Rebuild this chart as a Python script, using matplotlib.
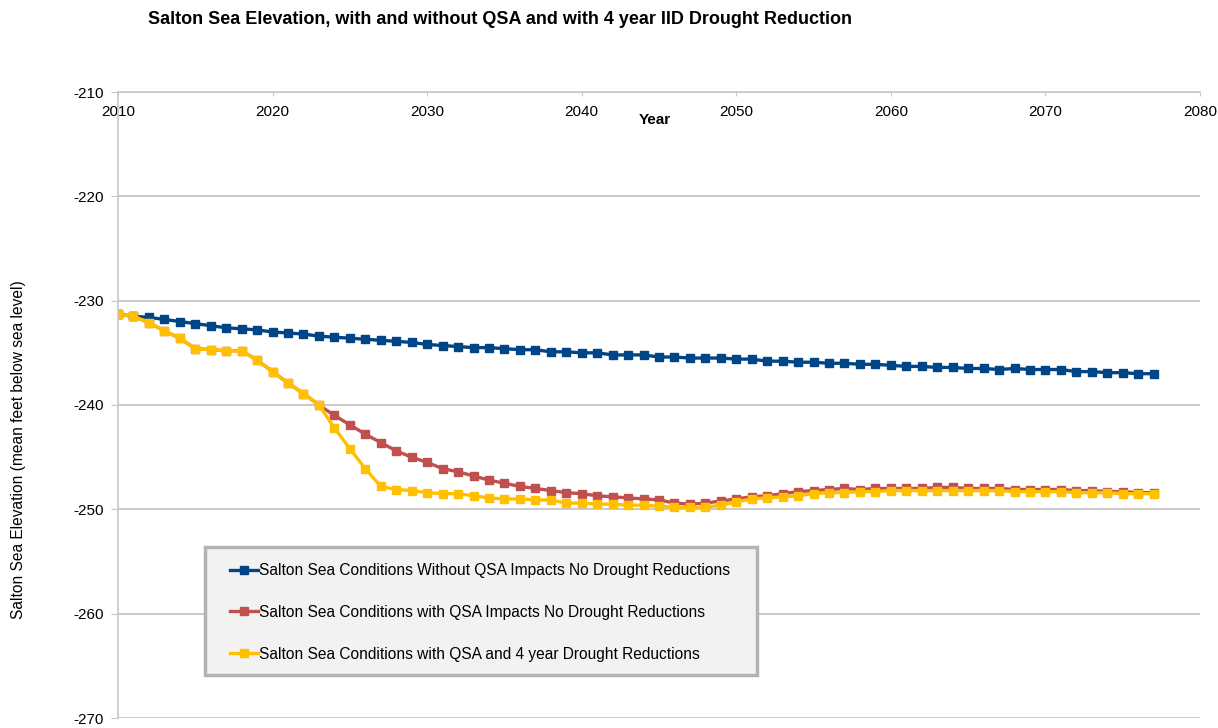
import matplotlib
matplotlib.use("Agg")
import matplotlib.pyplot as plt
from matplotlib.patches import Rectangle

plt.rcParams["font.family"] = ["Liberation Sans", "DejaVu Sans"]
plt.rcParams["axes.unicode_minus"] = False

years = list(range(2010, 2078))

no_qsa = [
    -231.3, -231.5, -231.6, -231.8, -232.0, -232.2, -232.4, -232.6, -232.7, -232.8,
    -233.0, -233.1, -233.2, -233.4, -233.5, -233.6, -233.7, -233.8, -233.9, -234.0,
    -234.2, -234.3, -234.4, -234.5, -234.5, -234.6, -234.7, -234.7, -234.9, -234.9,
    -235.0, -235.0, -235.2, -235.2, -235.2, -235.4, -235.4, -235.5, -235.5, -235.5,
    -235.6, -235.6, -235.8, -235.8, -235.9, -235.9, -236.0, -236.0, -236.1, -236.1,
    -236.2, -236.3, -236.3, -236.4, -236.4, -236.5, -236.5, -236.6, -236.5, -236.6,
    -236.6, -236.6, -236.8, -236.8, -236.9, -236.9, -237.0, -237.0,
]

with_qsa = [
    -231.3, -231.5, -232.1, -232.9, -233.6, -234.6, -234.7, -234.8, -234.8, -235.7,
    -236.8, -237.9, -238.9, -240.0, -241.0, -241.9, -242.8, -243.6, -244.4, -245.0,
    -245.5, -246.1, -246.4, -246.8, -247.2, -247.5, -247.8, -248.0, -248.2, -248.4,
    -248.5, -248.7, -248.8, -248.9, -249.0, -249.1, -249.4, -249.5, -249.4, -249.2,
    -249.0, -248.8, -248.7, -248.5, -248.3, -248.2, -248.1, -248.0, -248.1, -248.0,
    -248.0, -248.0, -248.0, -247.9, -247.9, -248.0, -248.0, -248.0, -248.1, -248.1,
    -248.1, -248.1, -248.2, -248.2, -248.3, -248.3, -248.4, -248.4,
]

with_qsa_drought = [
    -231.3, -231.5, -232.1, -232.9, -233.6, -234.6, -234.7, -234.8, -234.8, -235.7,
    -236.8, -237.9, -238.9, -240.0, -242.2, -244.2, -246.1, -247.8, -248.1, -248.2,
    -248.4, -248.5, -248.5, -248.7, -248.9, -249.0, -249.0, -249.1, -249.1, -249.4,
    -249.4, -249.5, -249.5, -249.6, -249.6, -249.7, -249.8, -249.8, -249.8, -249.6,
    -249.3, -249.0, -248.9, -248.8, -248.7, -248.5, -248.4, -248.4, -248.3, -248.3,
    -248.2, -248.2, -248.2, -248.2, -248.2, -248.2, -248.2, -248.2, -248.3, -248.3,
    -248.3, -248.3, -248.4, -248.4, -248.4, -248.5, -248.5, -248.5,
]

labels = [
    "Salton Sea Conditions Without QSA Impacts No Drought Reductions",
    "Salton Sea Conditions with QSA Impacts No Drought Reductions",
    "Salton Sea Conditions with QSA and 4 year Drought Reductions",
]
colors = ["#004586", "#c0504d", "#ffc000"]

W, H = 1218, 728
fig = plt.figure(figsize=(W / 100, H / 100), dpi=100)
ax = fig.add_axes([118 / W, 10 / H, 1082 / W, 626 / H])

def ax_xy(px, py):
    # pixel position (from top-left of the figure) -> axes fraction
    return (px - 118) / 1082, (718 - py) / 626

for vals, lab, col in zip([no_qsa, with_qsa, with_qsa_drought], labels, colors):
    ax.plot(years, vals, color=col, lw=2.4, marker="s", ms=6.3, mec=col, label=lab)

ax.set_xlim(2010, 2080)
ax.set_ylim(-270, -210)
ax.set_xticks(range(2010, 2081, 10))
ax.set_yticks(range(-270, -209, 10))

# x axis sits on the -210 line, labels hang below it
ax.spines["bottom"].set_position(("data", -210))
ax.spines["top"].set_visible(False)
ax.spines["right"].set_visible(False)
for s in ["bottom", "left"]:
    ax.spines[s].set_color("#c8c8c8")
    ax.spines[s].set_linewidth(1.2)

ax.yaxis.grid(True, color="#c0c0c0", lw=1.2)
ax.set_axisbelow(True)
ax.tick_params(axis="x", direction="out", length=3, color="#c8c8c8", labelsize=11, pad=6.5)
ax.tick_params(axis="y", direction="out", length=5, color="#c8c8c8", labelsize=11, pad=5)

ax.set_xlabel("Year", fontsize=11, fontweight="bold")
ax.xaxis.set_label_coords(*ax_xy(655, 120))
ax.xaxis.label.set_va("center")

ax.set_ylabel("Salton Sea Elevation (mean feet below sea level)", fontsize=11.2)
ax.yaxis.set_label_coords(*ax_xy(18, 450))
ax.yaxis.label.set_va("center")

fig.text(148 / W, 1 - 20 / H, "Salton Sea Elevation, with and without QSA and with 4 year IID Drought Reduction",
         fontsize=13, fontweight="bold", ha="left", va="center")

# legend box
x0, y0 = ax_xy(205, 675)
x1, y1 = ax_xy(757, 547)
ax.add_patch(Rectangle((x0, y0), x1 - x0, y1 - y0, transform=ax.transAxes,
                       facecolor="#f2f2f2", edgecolor="#b3b3b3", lw=2.5, zorder=4, clip_on=False))

ax.legend(loc="upper left", bbox_to_anchor=ax_xy(230, 563),
          borderaxespad=0, borderpad=0, fontsize=11.2, frameon=False,
          handlelength=1.8, handletextpad=0.05, labelspacing=1.72,
          numpoints=1, markerscale=0.9)

fig.savefig("out.png", dpi=100)
